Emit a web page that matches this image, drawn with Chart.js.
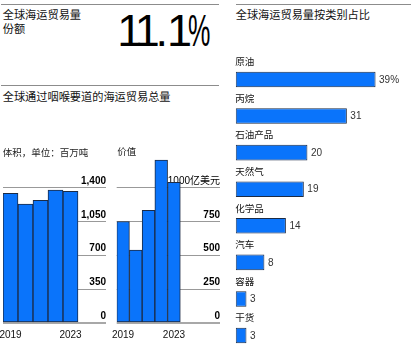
<!DOCTYPE html>
<html>
<head>
<meta charset="utf-8">
<script src="https://cdn.jsdelivr.net/npm/chart.js@4.4.1/dist/chart.umd.min.js"></script>
<style>
  body { margin: 0; width: 417px; height: 350px; overflow: hidden; position: relative; background: #fff;
         font-family: 'Liberation Sans', 'Noto Sans CJK SC', sans-serif; color: #111; }
  .rule { position: absolute; height: 0; border-top: 1px solid #8c8c8c; }
  .txt { position: absolute; white-space: nowrap; }
  .head { font-size: 11.2px; line-height: 14.3px; }
  .sub { font-size: 9.5px; line-height: 12px; color: #222; }
  .big { position: absolute; left: 117.2px; top: 7.8px; font-size: 45px; line-height: 46px; letter-spacing: -4.2px; color: #000; white-space: nowrap; }
  .big .dot { letter-spacing: -1px; }
  .big .pct { display: inline-block; transform: scaleX(0.56); transform-origin: left center; letter-spacing: 0; }
  canvas { position: absolute; }
</style>
</head>
<body>
<div class="rule" style="left:1px;top:4px;width:218px"></div>
<div class="rule" style="left:236px;top:4px;width:175px"></div>
<div class="rule" style="left:1px;top:85px;width:218px"></div>

<div class="txt head" style="left:2.7px;top:8px">全球海运贸易量<br>份额</div>
<div class="big">11<span class="dot">.</span>1<span class="pct">%</span></div>
<div class="txt head" style="left:2.7px;top:90px">全球通过咽喉要道的海运贸易总量</div>
<div class="txt head" style="left:235.7px;top:8px">全球海运贸易量按类别占比</div>

<canvas id="volumeChart" width="110" height="200" style="left:0;top:150px"></canvas>
<canvas id="valueChart" width="112" height="200" style="left:110px;top:150px"></canvas>
<canvas id="shareChart" width="192" height="310" style="left:225px;top:50px"></canvas>

<div class="txt sub" style="left:2.7px;top:146.7px">体积，单位：百万吨</div>
<div class="txt sub" style="left:117.3px;top:145.7px">价值</div>

<script>
const years = [2019, 2020, 2021, 2022, 2023];
const yearTicks = [2019, 2023];

// 百万吨
const volume = [1345, 1234, 1272, 1379, 1366];
const volumeTicks = [0, 350, 700, 1050, 1400];

// 亿美元
const value = [752, 541, 835, 1207, 1042];
const valueTicks = [0, 250, 500, 750, 1000];

const categories = ['原油', '丙烷', '石油产品', '天然气', '化学品', '汽车', '容器', '干货'];
const shares = [39, 31, 20, 19, 14, 8, 3, 3];

const FONT = "'Liberation Sans', 'Noto Sans CJK SC', sans-serif";
const BLUE = '#0a74fb';
const EDGE = '#1c2b44';

Chart.defaults.font.family = FONT;
Chart.defaults.animation = false;

function yAxis(ticks, yMax, labels, fmt) {
  return {
    position: 'right',
    min: 0,
    max: yMax,
    z: labels ? 1 : 0,
    afterBuildTicks: s => { s.ticks = ticks.map(v => ({ value: v })); },
    afterFit: s => { s.width = 0; s.paddingTop = 0; s.paddingBottom = 0; },
    border: { display: false },
    grid: labels ? { display: false, drawTicks: false } : {
      drawTicks: false,
      color: c => (c.tick && c.tick.value === 0) ? '#a8a8a8' : '#999',
      lineWidth: c => (c.tick && c.tick.value === 0) ? 2 : 1
    },
    ticks: {
      display: labels,
      mirror: true,
      padding: 0,
      labelOffset: -7,
      autoSkip: false,
      color: '#000',
      // plain numbers are set heavier than the unit label
      font: c => {
        const plain = !c.tick || /^[\d,]+$/.test(fmt(c.tick.value));
        return { size: 10, weight: plain ? 'bold' : 'normal' };
      },
      callback: fmt
    }
  };
}

function columnChart(id, vals, ticks, yMax, xMax, padLeft, padRight, fmt) {
  return new Chart(document.getElementById(id), {
    type: 'bar',
    data: {
      datasets: [{
        data: years.map((y, i) => ({ x: y, y: vals[i] })),
        backgroundColor: BLUE,
        borderColor: EDGE,
        borderWidth: 1,
        borderSkipped: false,
        barPercentage: 1,
        categoryPercentage: 1,
        yAxisID: 'y'
      }]
    },
    options: {
      responsive: false,
      layout: { padding: { left: padLeft, right: padRight, top: 4.25, bottom: 0 } },
      plugins: { legend: { display: false }, tooltip: { enabled: false } },
      scales: {
        x: {
          type: 'linear',
          offset: false,
          min: 2018.5,
          max: xMax,
          afterBuildTicks: s => { s.ticks = yearTicks.map(v => ({ value: v })); },
          afterFit: s => { s.height = 27; s.paddingLeft = 0; s.paddingRight = 0; },
          border: { display: false },
          grid: { display: false, drawTicks: false },
          ticks: { padding: 6, color: '#111', font: { size: 10 }, maxRotation: 0, autoSkip: false, callback: v => String(v) }
        },
        y: yAxis(ticks, yMax, false, fmt),
        yl: yAxis(ticks, yMax, true, fmt)
      }
    }
  });
}

columnChart('volumeChart', volume, volumeTicks, 1750, 2018.5 + 103 / 15, 3, 4,
  v => v.toLocaleString('en-US'));
columnChart('valueChart', value, valueTicks, 1250, 2018.5 + 103.3 / 12.72, 6.7, 2,
  v => v === 1000 ? '1000亿美元' : String(v));

// category names above each bar, share to the right of it
const barLabels = {
  id: 'barLabels',
  afterDatasetsDraw(chart) {
    const ctx = chart.ctx;
    ctx.save();
    ctx.textAlign = 'left';
    ctx.textBaseline = 'middle';
    chart.getDatasetMeta(0).data.forEach((bar, i) => {
      ctx.font = '9.5px ' + FONT;
      ctx.fillStyle = '#111';
      ctx.fillText(categories[i], bar.base - 0.5, bar.y - bar.height / 2 - 9);
      ctx.font = '10px ' + FONT;
      ctx.fillStyle = '#333';
      ctx.fillText(i === 0 ? shares[i] + '%' : String(shares[i]), bar.x + 3.5, bar.y + 0.5);
    });
    ctx.restore();
  }
};

new Chart(document.getElementById('shareChart'), {
  type: 'bar',
  data: {
    labels: categories,
    datasets: [{
      data: shares,
      backgroundColor: BLUE,
      borderColor: EDGE,
      borderWidth: 1,
      borderSkipped: false,
      barPercentage: 0.426,
      categoryPercentage: 1
    }]
  },
  options: {
    indexAxis: 'y',
    responsive: false,
    layout: { padding: { left: 10.7, right: 2, top: 11.2, bottom: 6.2 } },
    plugins: { legend: { display: false }, tooltip: { enabled: false } },
    scales: {
      x: { display: false, min: 0, max: 50 },
      y: { display: false }
    }
  },
  plugins: [barLabels]
});
</script>
</body>
</html>
